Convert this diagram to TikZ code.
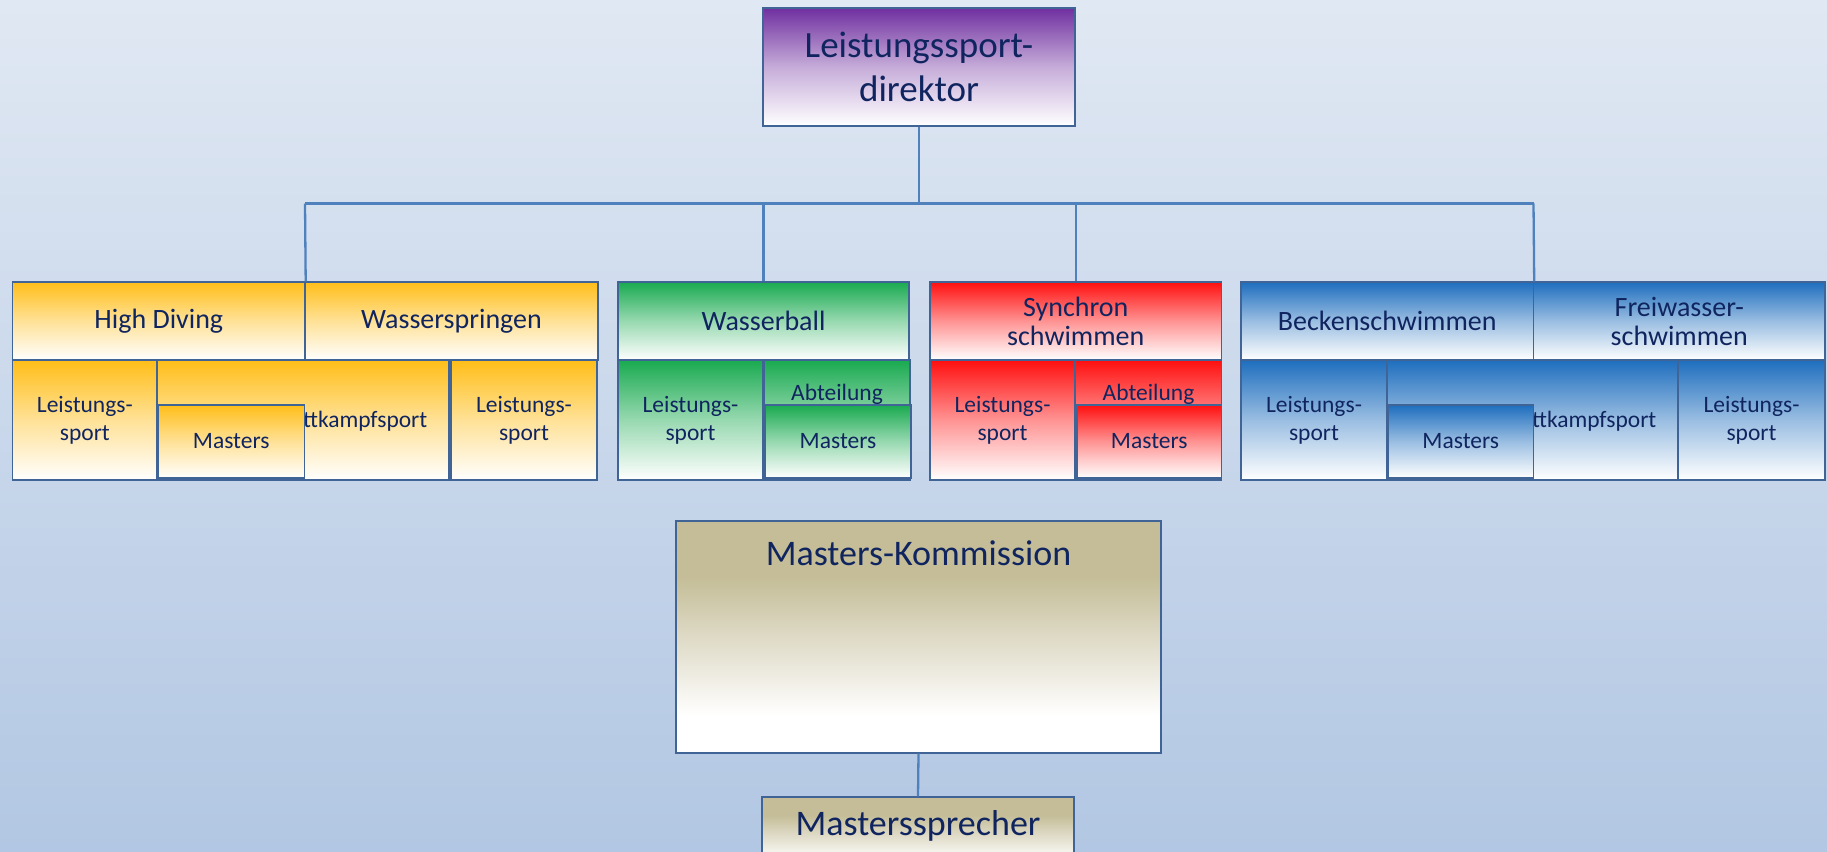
\documentclass[tikz,border=0pt]{standalone}
\usepackage{fontspec}
\setmainfont{Carlito}
\definecolor{bgtop}{RGB}{224,232,243}
\definecolor{bgbot}{RGB}{178,199,227}
\definecolor{txt}{RGB}{16,37,95}
\definecolor{bord}{RGB}{65,100,150}
\definecolor{conncol}{RGB}{79,129,189}
\definecolor{cPur}{RGB}{112,48,160}
\definecolor{cOr}{RGB}{255,190,25}
\definecolor{cGr}{RGB}{25,170,80}
\definecolor{cRd}{RGB}{255,15,15}
\definecolor{cBl}{RGB}{30,110,190}
\definecolor{cKh}{RGB}{196,189,151}
\definecolor{cKhm}{RGB}{222,218,198}
\pgfdeclareverticalshading{khfade}{100bp}{color(0bp)=(white); color(33bp)=(white); color(50bp)=(cKhm); color(63bp)=(cKh); color(100bp)=(cKh)}
\newcommand{\bx}[7]{\node[#6, minimum width={(#4-#2)*1pt}, minimum height={(#5-#3)*1pt}] (#1) at ({(#2+#4)/2},{(#3+#5)/2}) {#7};}
\tikzset{
  box/.style={draw=bord, line width=1.4pt, inner sep=0pt, text=txt, align=center},
  boxPur/.style={box, top color=cPur, bottom color=white, middle color=cPur!40!white},
  boxOr/.style={box, top color=cOr, bottom color=white, middle color=cOr!45!white},
  boxGr/.style={box, top color=cGr, bottom color=white, middle color=cGr!45!white},
  boxRd/.style={box, top color=cRd, bottom color=white, middle color=cRd!45!white},
  boxBl/.style={box, top color=cBl, bottom color=white, middle color=cBl!45!white},
  boxKh/.style={box, shade, shading=khfade},
  big/.style={font=\fontsize{37}{44}\selectfont},
  head/.style={font=\fontsize{28}{29}\selectfont},
  small/.style={font=\fontsize{23.5}{28}\selectfont},
  lbl/.style={text=txt, inner sep=0pt, align=center},
  conn/.style={draw=conncol, line width=2.3pt},
}
\begin{document}
\begin{tikzpicture}[x=1pt,y=-1pt]
\clip (0,0) rectangle (1827,851);
\shade[top color=bgtop, bottom color=bgbot] (0,0) rectangle (1827,851);

% top
\bx{dir}{763}{8}{1075}{126}{boxPur,big}{Leistungssport-\\direktor}

% gold group
\bx{hd}{12.7}{282}{305}{360}{boxOr,head}{High Diving}
\bx{ws}{305}{282}{598}{360}{boxOr,head}{Wasserspringen}
\bx{hdl}{12.7}{360.7}{157}{480}{boxOr,small}{Leistungs-\\sport}
\bx{hdw}{157}{360.7}{449}{480}{boxOr}{}
\node[lbl,small,anchor=east] (hdwt) at (427.5,421) {Wettkampfsport};
\bx{hdm}{158}{405}{304.5}{478}{boxOr,small}{Masters}
\bx{hdr}{451}{360.7}{597}{480}{boxOr,small}{Leistungs-\\sport}

% green group
\bx{wb}{618}{282}{909}{360}{boxGr,head}{Wasserball}
\bx{wbl}{618}{360}{763}{480}{boxGr,small}{Leistungs-\\sport}
\bx{wba}{764}{360}{910}{480}{boxGr}{}
\node[lbl,small] (wbat) at (837,394) {Abteilung};
\bx{wbm}{765}{405}{911}{478}{boxGr,small}{Masters}

% red group
\bx{sy}{930}{282}{1221.5}{360}{boxRd,head}{Synchron\\schwimmen}
\bx{syl}{930}{360}{1075}{480}{boxRd,small}{Leistungs-\\sport}
\bx{sya}{1075.5}{360}{1221.5}{480}{boxRd}{}
\node[lbl,small] (syat) at (1148.5,394) {Abteilung};
\bx{sym}{1077}{405}{1221.5}{478}{boxRd,small}{Masters}

% blue group
\bx{bs}{1241}{282}{1533.5}{360}{boxBl,head}{Beckenschwimmen}
\bx{fw}{1533.5}{282}{1825}{360}{boxBl,head}{Freiwasser-\\schwimmen}
\bx{bsl}{1241}{360}{1387}{480}{boxBl,small}{Leistungs-\\sport}
\bx{bsw}{1387}{360}{1677.5}{480}{boxBl}{}
\node[lbl,small,anchor=east] (bswt) at (1656.5,421) {Wettkampfsport};
\bx{bsm}{1388}{405}{1533.5}{478}{boxBl,small}{Masters}
\bx{fwr}{1678}{360}{1825}{480}{boxBl,small}{Leistungs-\\sport}

% masters commission
\bx{mk}{676}{521}{1161}{753}{boxKh}{}
\node[lbl,font=\fontsize{36}{40}\selectfont] (mkt) at (918.5,553) {Masters-Kommission};
\bx{ms}{762}{797}{1074}{872}{boxKh}{}
\node[lbl,font=\fontsize{36}{40}\selectfont] (mst) at (918,826) {Masterssprecher};

% connectors
\coordinate (busL) at (305,203.5);
\coordinate (busR) at (1533.5,203.5);
\draw[conn] (busL) -- (busR);
\draw[conn] (dir.south) -- (dir.south |- busL);
\draw[conn] (busL) -- (hd.north east);
\draw[conn] (wb.north |- busL) -- (wb.north);
\draw[conn] (sy.north |- busL) -- (sy.north);
\draw[conn] (busR) -- (bs.north east);
\draw[conn] (mk.south) -- (ms.north);
\end{tikzpicture}
\end{document}
